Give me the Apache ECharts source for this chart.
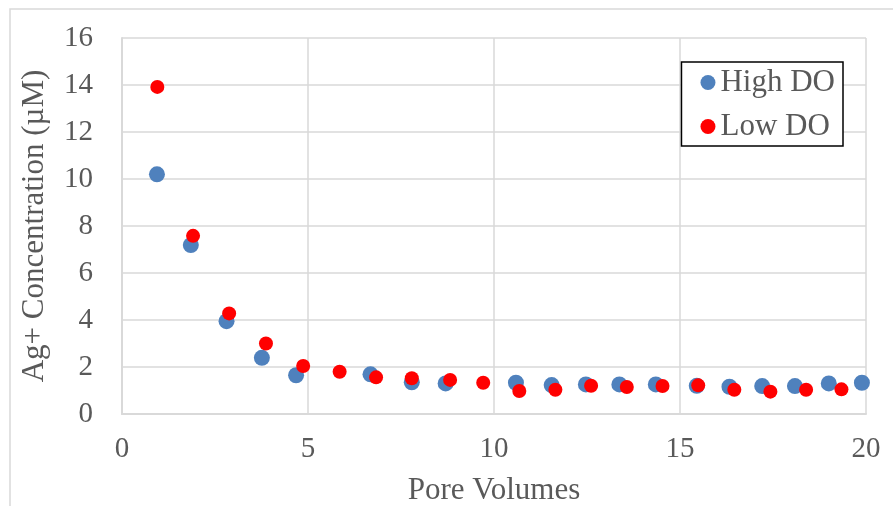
<!DOCTYPE html>
<html>
<head>
<meta charset="utf-8">
<script src="https://cdn.jsdelivr.net/npm/echarts@6/dist/echarts.min.js"></script>
<style>
  html, body { margin: 0; padding: 0; background: #fff; }
  #chart { width: 893px; height: 506px; }
</style>
</head>
<body>
<div id="chart"></div>
<script>
// pore volumes and Ag+ concentration (uM)
const highX = [0.94, 1.85, 2.81, 3.76, 4.68, 6.68, 7.79, 8.70, 10.59, 11.55, 12.47, 13.37, 14.35, 15.45, 16.33, 17.21, 18.09, 19.00, 19.89]
const highY = [10.2, 7.19, 3.95, 2.39, 1.65, 1.69, 1.35, 1.30, 1.33, 1.23, 1.26, 1.26, 1.26, 1.20, 1.16, 1.19, 1.19, 1.30, 1.33]
const lowX = [0.95, 1.91, 2.88, 3.87, 4.87, 5.85, 6.83, 7.79, 8.82, 9.71, 10.68, 11.65, 12.61, 13.57, 14.53, 15.49, 16.46, 17.43, 18.39, 19.34]
const lowY = [13.92, 7.58, 4.28, 3.0, 2.04, 1.80, 1.56, 1.52, 1.45, 1.33, 0.98, 1.03, 1.20, 1.15, 1.19, 1.22, 1.03, 0.95, 1.03, 1.05]

const zip = (xs, ys) => xs.map((x, i) => [x, ys[i]])

const font = 'Liberation Serif'
const textColor = '#595959'
const gridColor = '#d9d9d9'

const chart = echarts.init(document.getElementById('chart'))
chart.setOption({
  animation: false,
  textStyle: { fontFamily: font },
  // outer chart-area border, cut off by the picture edge
  graphic: [
    {
      type: 'rect',
      silent: true,
      shape: { x: 10, y: 9, width: 900, height: 520 },
      style: { fill: null, stroke: gridColor, lineWidth: 1.5 }
    }
  ],
  grid: { left: 122, top: 38, right: 27, bottom: 92, show: false, outerBoundsMode: 'none', containLabel: false },
  legend: {
    right: 50,
    top: 62,
    orient: 'vertical',
    padding: [5, 8, 4, 19],
    itemGap: 13,
    itemWidth: 15,
    itemHeight: 15,
    backgroundColor: '#fff',
    borderColor: '#000',
    borderWidth: 1.5,
    textStyle: { fontFamily: font, fontSize: 31, color: textColor },
    data: [
      { name: 'High DO', icon: 'circle' },
      { name: 'Low DO', icon: 'circle' }
    ]
  },
  xAxis: {
    type: 'value',
    min: 0,
    max: 20,
    interval: 5,
    name: 'Pore Volumes',
    nameLocation: 'middle',
    nameGap: 61,
    nameTextStyle: { fontFamily: font, fontSize: 31, color: textColor },
    axisLine: { show: true, lineStyle: { color: gridColor, width: 2 } },
    axisTick: { show: false },
    axisLabel: { fontFamily: font, fontSize: 29, color: textColor, margin: 21 },
    splitLine: { show: true, lineStyle: { color: gridColor, width: 1.5 } }
  },
  yAxis: {
    type: 'value',
    min: 0,
    max: 16,
    interval: 2,
    name: 'Ag+ Concentration (µM)',
    nameLocation: 'middle',
    nameGap: 72,
    nameTextStyle: { fontFamily: font, fontSize: 31, color: textColor },
    axisLine: { show: true, lineStyle: { color: gridColor, width: 2 } },
    axisTick: { show: false },
    axisLabel: { fontFamily: font, fontSize: 29, color: textColor, margin: 29 },
    splitLine: { show: true, lineStyle: { color: gridColor, width: 1.5 } }
  },
  series: [
    {
      name: 'High DO',
      type: 'scatter',
      symbolSize: 16,
      itemStyle: { color: '#4f81bd', opacity: 1 },
      data: zip(highX, highY)
    },
    {
      name: 'Low DO',
      type: 'scatter',
      symbolSize: 14,
      itemStyle: { color: '#ff0000', opacity: 1 },
      data: zip(lowX, lowY)
    }
  ]
})
</script>
</body>
</html>
